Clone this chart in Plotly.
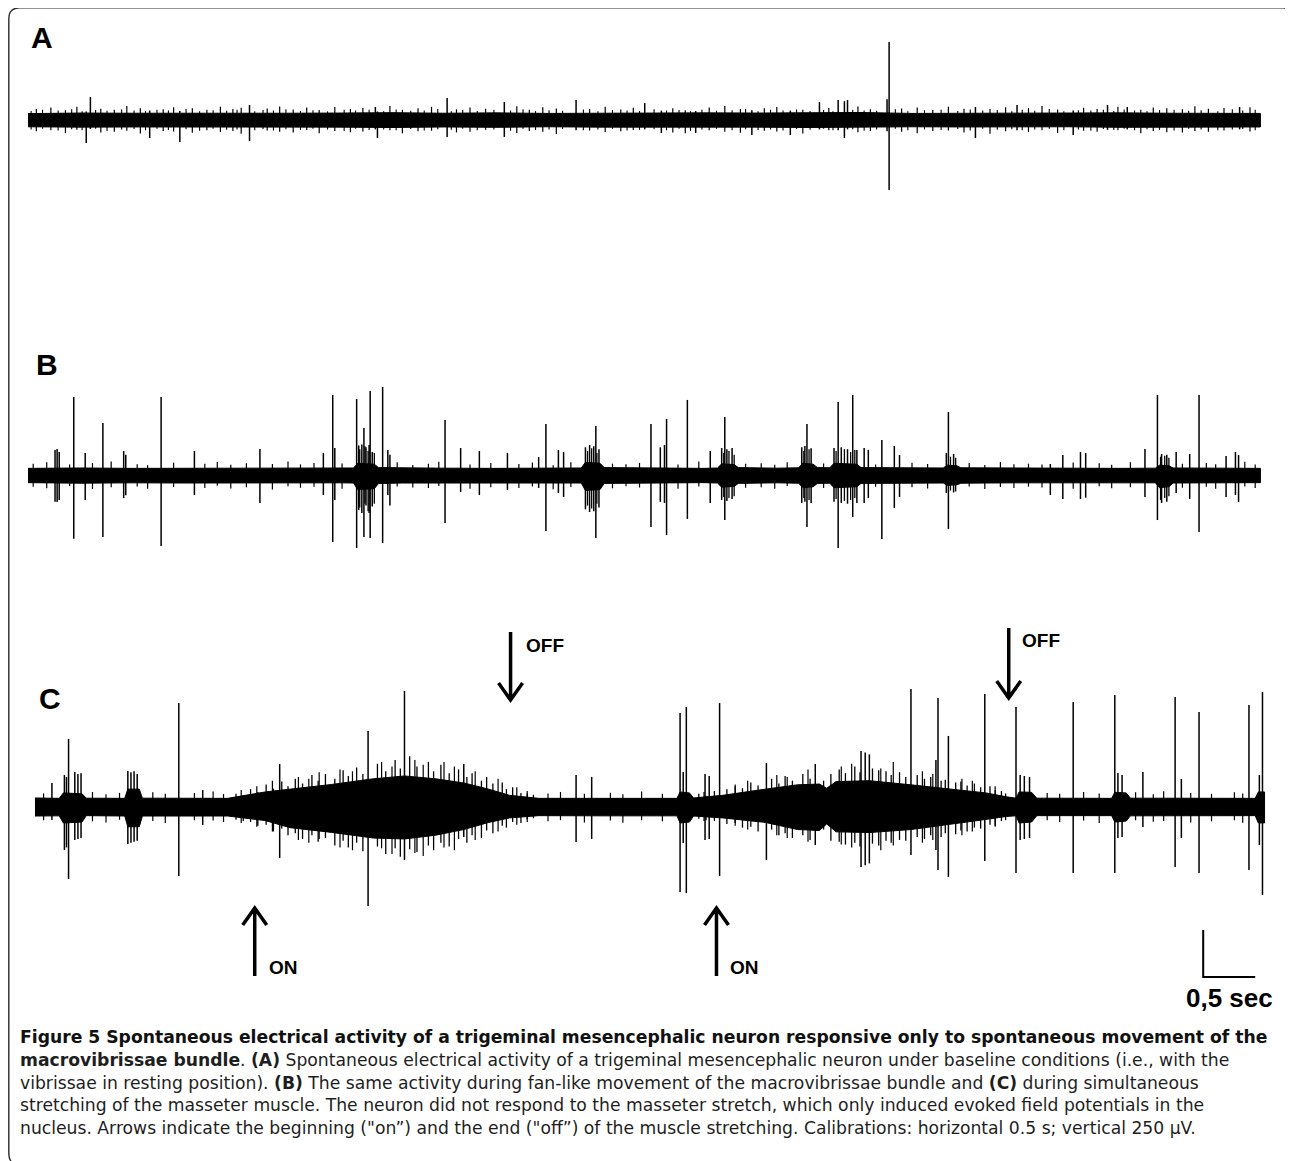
import plotly.graph_objects as go

# ---------------- data: time in s, amplitude in µV ----------------
# Panel A: baseline noise envelope
a_env_t = [0, 0.5, 1.0, 1.5, 2.0, 2.5, 3.0, 3.5, 4.0, 4.5, 5.0, 5.5, 6.0, 6.5, 7.0, 7.5, 8.0, 8.5, 9.0, 9.5, 10.0, 10.5, 11.0, 11.5, 11.85]
a_env_hi = [34, 37, 36, 35, 38, 36, 37, 39, 36, 38, 35, 37, 36, 38, 37, 39, 40, 35, 36, 37, 35, 38, 36, 37, 35]
a_env_lo = [-36, -38, -37, -36, -39, -37, -38, -40, -37, -39, -36, -38, -37, -39, -38, -40, -39, -36, -37, -38, -36, -39, -37, -38, -37]
# Panel A: spikes
a_sp_t = [0.56, 0.60, 1.17, 1.46, 2.13, 3.34, 3.36, 4.03, 4.58, 5.27, 5.93, 6.09, 6.42, 6.96, 7.33, 7.61, 7.79, 7.85, 7.88, 8.26, 8.28, 9.11, 9.51, 10.05, 10.38, 10.57, 11.65]
a_sp_hi = [45, 122, 50, 48, 80, 69, 45, 117, 96, 106, 90, 50, 48, 52, 50, 96, 106, 100, 106, 110, 415, 69, 80, 50, 80, 69, 69]
a_sp_lo = [-122, -48, -96, -117, -112, -50, -96, -90, -90, -55, -50, -69, -69, -80, -80, -50, -55, -96, -50, -60, -372, -96, -55, -80, -52, -50, -50]
# Panel A: noise deflections
a_fr_t = [0.08, 0.22, 0.36, 0.47, 0.70, 0.83, 0.95, 1.08, 1.30, 1.40,
          1.58, 1.72, 1.85, 1.97, 2.05, 2.30, 2.42, 2.55, 2.68, 2.80,
          2.95, 3.10, 3.22, 3.48, 3.60, 3.75, 3.88, 4.12, 4.25, 4.40,
          4.70, 4.82, 4.95, 5.08, 5.40, 5.55, 5.70, 5.82, 6.20, 6.32,
          6.55, 6.70, 6.85, 7.08, 7.20, 7.45, 7.70, 7.98, 8.10, 8.40,
          8.55, 8.70, 8.85, 9.00, 9.25, 9.40, 9.62, 9.75, 9.90, 10.15,
          10.28, 10.48, 10.70, 10.82, 10.95, 11.10, 11.22, 11.35, 11.50, 11.75]
a_fr_hi = [58, 66, 52, 71, 60, 55, 74, 62, 57, 68, 63, 54, 70, 59, 65, 61, 72, 56, 67, 53,
           69, 58, 64, 75, 55, 62, 70, 57, 66, 60, 73, 54, 68, 61, 59, 71, 56, 65, 63, 52,
           67, 74, 58, 62, 69, 55, 64, 72, 57, 61, 66, 53, 70, 60, 58, 68, 63, 75, 56, 65,
           59, 71, 54, 67, 62, 57, 73, 60, 64, 68]
a_fr_lo = [-60, -55, -70, -52, -66, -63, -57, -72, -58, -61, -68, -54, -64, -59, -73, -56, -62, -67, -53, -70,
           -58, -65, -61, -55, -71, -60, -57, -66, -63, -52, -69, -58, -62, -74, -56, -64, -60, -53, -67, -71,
           -55, -63, -68, -57, -61, -72, -54, -65, -59, -62, -70, -58, -56, -66, -73, -60, -64, -55, -69, -57,
           -62, -54, -71, -59, -65, -67, -58, -63, -56, -61]
a_fn_t = [0.03, 0.14, 0.29, 0.42, 0.52, 0.65, 0.76, 0.90, 1.02, 1.13,
          1.24, 1.35, 1.52, 1.65, 1.78, 1.91, 2.01, 2.18, 2.26, 2.36,
          2.48, 2.62, 2.74, 2.88, 3.04, 3.15, 3.28, 3.42, 3.54, 3.68,
          3.81, 3.94, 4.07, 4.18, 4.32, 4.48, 4.64, 4.76, 4.88, 5.01,
          5.14, 5.34, 5.48, 5.62, 5.76, 5.88, 6.02, 6.14, 6.26, 6.37,
          6.48, 6.62, 6.77, 6.90, 7.02, 7.14, 7.26, 7.39, 7.52, 7.65,
          7.74, 7.93, 8.04, 8.16, 8.34, 8.46, 8.62, 8.78, 8.94, 9.06,
          9.18, 9.32, 9.46, 9.56, 9.68, 9.82, 9.96, 10.10, 10.22, 10.34,
          10.44, 10.54, 10.64, 10.76, 10.88, 11.02, 11.16, 11.28, 11.44, 11.58,
          11.68, 11.80]
a_fn_hi = [48, 55, 50, 57, 46, 53, 49, 56, 51, 47, 54, 50, 58, 46, 52, 49, 55, 47, 53, 50,
           57, 48, 52, 46, 55, 50, 54, 47, 56, 49, 51, 58, 46, 53, 48, 55, 50, 57, 47, 52,
           49, 56, 46, 54, 51, 48, 57, 50, 53, 47, 55, 49, 52, 58, 46, 54, 50, 56, 48, 53,
           47, 55, 51, 49, 57, 46, 52, 54, 48, 56, 50, 53, 47, 55, 49, 58, 46, 52, 51, 54,
           48, 56, 50, 47, 53, 55, 49, 52, 46, 57, 51, 54]
a_fn_lo = [-50, -47, -56, -49, -54, -46, -58, -51, -48, -55, -47, -53, -49, -57, -46, -52, -50, -55, -48, -56,
           -49, -54, -47, -51, -58, -46, -53, -50, -55, -48, -56, -49, -52, -47, -54, -50, -57, -46, -53, -51,
           -48, -55, -50, -47, -56, -52, -49, -54, -46, -58, -51, -47, -55, -49, -53, -50, -56, -48, -52, -46,
           -54, -49, -57, -51, -47, -55, -50, -53, -48, -56, -46, -52, -49, -55, -51, -47, -54, -50, -57, -48,
           -53, -46, -55, -49, -52, -56, -47, -51, -54, -50, -48, -55]

# Panel B
b_env_t = [0, 0.5, 1.0, 1.5, 2.0, 2.5, 3.0, 3.13, 3.17, 3.33, 3.37, 3.6, 4.0, 4.5, 5.0, 5.32,
           5.36, 5.50, 5.54, 6.0, 6.5, 6.63, 6.67, 6.79, 6.83, 7.2, 7.41, 7.45, 7.55, 7.59, 7.71, 7.75,
           7.97, 8.01, 8.4, 8.80, 8.84, 8.93, 8.97, 9.5, 10.0, 10.5, 10.84, 10.88, 10.97, 11.01, 11.5, 11.85]
b_env_hi = [38, 40, 38, 39, 37, 40, 39, 40, 65, 60, 42, 40, 39, 38, 40, 40,
            70, 65, 42, 39, 38, 40, 62, 58, 42, 39, 41, 65, 60, 42, 41, 65,
            60, 42, 41, 40, 55, 52, 41, 39, 40, 38, 39, 55, 52, 40, 39, 38]
b_env_lo = [-38, -41, -39, -40, -38, -40, -39, -40, -75, -70, -43, -40, -39, -38, -40, -40,
            -80, -75, -42, -39, -38, -40, -62, -58, -42, -39, -41, -65, -60, -42, -41, -65,
            -60, -42, -41, -40, -52, -50, -41, -39, -40, -38, -39, -65, -60, -40, -39, -38]
b_sp_t = [0.26, 0.28, 0.30, 0.44, 0.55, 0.72, 0.92, 0.94, 1.28, 1.60,
          2.23, 2.84, 2.93, 2.95, 3.16, 3.18, 3.21, 3.23, 3.25, 3.28,
          3.29, 3.31, 3.41, 3.46, 3.48, 4.01, 4.16, 4.34, 4.61, 4.91,
          4.98, 5.10, 5.15, 5.36, 5.40, 5.44, 5.46, 5.49, 5.99, 6.08,
          6.12, 6.14, 6.34, 6.56, 6.67, 6.70, 6.72, 6.77, 7.44, 7.47,
          7.49, 7.53, 7.75, 7.79, 7.82, 7.88, 7.93, 7.97, 8.04, 8.08,
          8.21, 8.33, 8.38, 8.83, 8.85, 8.90, 9.83, 9.95, 10.12, 10.17,
          10.74, 10.86, 10.90, 10.95, 11.04, 11.17, 11.26, 11.52, 11.61, 11.64]
b_sp_hi = [135, 141, 125, 418, 120, 279, 130, 110, 418, 130,
           141, 120, 428, 146, 407, 160, 165, 253, 150, 162,
           450, 125, 471, 136, 110, 295, 146, 130, 120, 98,
           274, 136, 125, 150, 162, 155, 263, 140, 274, 150,
           162, 301, 402, 130, 146, 311, 140, 146, 150, 157,
           274, 145, 146, 391, 150, 140, 428, 135, 146, 136,
           189, 157, 109, 120, 338, 115, 61, 109, 125, 120,
           141, 428, 114, 110, 125, 114, 428, 104, 125, 109]
b_sp_lo = [-140, -141, -130, -336, -130, -327, -120, -105, -375, -104,
           -146, -104, -354, -130, -386, -184, -200, -327, -160, -200,
           -332, -165, -359, -104, -160, -253, -88, -104, -77, -66,
           -295, -93, -114, -180, -194, -190, -332, -170, -274, -140,
           -146, -317, -231, -146, -130, -237, -135, -125, -146, -140,
           -274, -146, -140, -386, -146, -150, -221, -146, -146, -120,
           -338, -173, -114, -93, -285, -90, -104, -125, -125, -118,
           -114, -237, -146, -140, -93, -125, -301, -114, -104, -141]
# Panel B: extra deflections inside the bursts
b_bu_t = [3.19, 3.24, 3.27, 3.33, 5.38, 5.42, 5.47, 6.69, 6.74, 6.79, 7.46,
          7.51, 7.77, 7.85, 7.91, 7.95, 8.87, 8.92, 10.89, 10.93, 10.97]
b_bu_hi = [140, 155, 130, 120, 130, 145, 120, 120, 130, 110, 130,
           140, 130, 140, 125, 135, 100, 95, 100, 105, 95]
b_bu_lo = [-170, -150, -190, -150, -160, -175, -150, -115, -120, -110, -120,
           -130, -125, -135, -130, -120, -80, -85, -130, -120, -110]
b_fr_t = [0.05, 0.18, 0.40, 0.62, 0.80, 1.05, 1.15, 1.40, 1.70, 1.82,
          1.95, 2.10, 2.35, 2.50, 2.62, 2.75, 3.02, 3.55, 3.70, 3.85,
          3.95, 4.25, 4.45, 4.72, 4.85, 5.05, 5.22, 5.62, 5.75, 5.88,
          6.25, 6.45, 6.90, 7.05, 7.18, 7.30, 7.65, 8.15, 8.50, 8.65,
          9.05, 9.20, 9.35, 9.48, 9.62, 9.75, 10.05, 10.30, 10.42, 10.60,
          11.10, 11.33, 11.42, 11.70, 11.80]
b_fr_hi = [62, 70, 58, 66, 74, 60, 55, 68, 63, 72, 57, 65, 61, 75, 59, 67, 64, 70, 56, 62,
           73, 58, 66, 61, 69, 55, 71, 63, 60, 67, 58, 74, 62, 65, 57, 70, 64, 59, 68, 61,
           66, 56, 72, 60, 63, 58, 69, 65, 57, 71, 62, 67, 60, 73, 58]
b_fr_lo = [-60, -68, -56, -72, -63, -58, -70, -61, -66, -55, -69, -62, -74, -57, -65, -60, -71, -58, -64, -67,
           -56, -70, -62, -66, -59, -73, -61, -68, -57, -64, -70, -58, -65, -62, -71, -56, -67, -60, -63, -69,
           -58, -72, -61, -66, -59, -64, -70, -57, -68, -62, -65, -60, -71, -58, -66]

# Panel C: dense core of the trace (incl. the two stretch-evoked field potential spindles)
c_env_t = [0.067, 0.30, 0.34, 0.52, 0.56, 0.93, 0.96, 1.07, 1.10, 1.50,
           1.92, 2.28, 2.52, 2.92, 3.32, 3.62, 3.92, 4.19, 4.43, 4.63,
           4.91, 5.50, 6.00, 6.24, 6.27, 6.36, 6.40, 6.68, 7.09, 7.40,
           7.61, 7.68, 7.77, 8.09, 8.49, 8.88, 9.21, 9.41, 9.50, 9.53,
           9.65, 9.70, 10.00, 10.42, 10.45, 10.56, 10.60, 11.00, 11.50, 11.80,
           11.83, 11.89]
c_env_hi = [48, 46, 75, 70, 47, 46, 95, 95, 47, 45,
            46, 80, 95, 120, 150, 165, 150, 128, 95, 62,
            46, 45, 47, 46, 80, 75, 48, 62, 95, 118,
            122, 100, 135, 140, 118, 95, 75, 54, 47, 80,
            78, 47, 45, 46, 78, 75, 47, 46, 45, 46,
            80, 80]
c_env_lo = [-48, -47, -85, -80, -46, -48, -105, -105, -48, -46,
            -48, -72, -110, -135, -165, -170, -150, -120, -82, -58,
            -46, -47, -46, -47, -85, -80, -48, -58, -82, -120,
            -125, -90, -132, -136, -120, -92, -66, -50, -47, -85,
            -80, -46, -47, -46, -80, -75, -47, -46, -47, -46,
            -85, -85]
c_sp_t = [0.23, 0.35, 0.37, 0.39, 0.45, 0.48, 0.51, 0.96, 0.99, 1.02,
          1.05, 1.45, 1.68, 2.42, 3.27, 3.62, 4.19, 5.27, 5.42, 6.27,
          6.30, 6.33, 6.51, 6.55, 6.65, 7.10, 7.57, 8.01, 8.05, 8.09,
          8.49, 8.73, 8.75, 8.85, 9.20, 9.50, 9.54, 9.58, 9.63, 10.05,
          10.45, 10.48, 10.52, 10.72, 11.03, 11.09, 11.26, 11.74, 11.84, 11.87]
c_sp_hi = [128, 170, 160, 362, 186, 175, 180, 192, 185, 190,
           175, 553, 90, 229, 404, 617, 229, 170, 160, 500,
           186, 532, 176, 165, 553, 234, 229, 298, 290, 280,
           628, 250, 580, 378, 601, 532, 170, 165, 160, 559,
           596, 181, 170, 186, 585, 149, 505, 543, 170, 612]
c_sp_lo = [-69, -229, -215, -383, -176, -170, -165, -197, -190, -185,
           -180, -367, -96, -271, -527, -282, -160, -186, -170, -452,
           -192, -458, -176, -170, -367, -282, -202, -319, -310, -300,
           -255, -229, -335, -372, -287, -351, -176, -170, -165, -351,
           -351, -165, -160, -106, -319, -165, -351, -335, -202, -468]
# Panel C: deflections on the spindle edges
c_s1_t = [2.00, 2.07, 2.14, 2.21, 2.29, 2.36, 2.44, 2.50, 2.57, 2.64,
          2.73, 2.79, 2.86, 2.95, 3.03, 3.08, 3.16, 3.22, 3.36, 3.44,
          3.53, 3.58, 3.67, 3.74, 3.85, 3.90, 3.97, 4.05, 4.14, 4.22,
          4.27, 4.36, 4.41, 4.47, 4.56, 4.60, 4.66, 4.74, 4.80, 4.86]
c_s1_hi = [70, 62, 95, 80, 120, 98, 135, 110, 150, 125, 170, 140, 175, 150, 195, 165, 210, 175, 230, 190,
           250, 205, 270, 215, 240, 190, 225, 180, 200, 160, 180, 140, 160, 125, 130, 95, 105, 75, 72, 65]
c_s1_lo = [-68, -75, -80, -100, -95, -130, -115, -150, -140, -170, -150, -185, -165, -205, -180, -215, -190, -235, -210, -250,
           -220, -265, -225, -240, -205, -230, -190, -210, -170, -190, -150, -165, -125, -140, -100, -110, -80, -85, -65, -60]
c_s2_t = [6.45, 6.52, 6.60, 6.72, 6.80, 6.87, 6.95, 7.02, 7.15, 7.22,
          7.28, 7.35, 7.45, 7.52, 7.65, 7.72, 7.80, 7.86, 7.95, 8.00,
          8.12, 8.18, 8.25, 8.30, 8.38, 8.44, 8.55, 8.62, 8.68, 8.78,
          8.82, 8.92, 8.97, 9.03, 9.10, 9.16, 9.25, 9.30, 9.36, 9.40]
c_s2_hi = [70, 60, 85, 95, 110, 100, 130, 115, 150, 125, 165, 140, 175, 150, 140, 175, 200, 180, 215, 185,
           205, 195, 190, 170, 185, 160, 170, 150, 160, 140, 145, 130, 135, 115, 125, 105, 110, 90, 85, 72]
c_s2_lo = [-62, -70, -75, -90, -85, -110, -105, -130, -120, -150, -140, -165, -150, -175, -120, -180, -185, -200, -190, -210,
           -195, -205, -180, -190, -175, -180, -160, -170, -150, -160, -140, -145, -125, -130, -110, -115, -95, -100, -75, -70]
c_fr_t = [0.15, 0.62, 0.75, 0.88, 1.20, 1.32, 1.60, 1.78, 1.88, 2.05,
          2.20, 2.35, 2.60, 2.70, 2.80, 3.00, 3.12, 3.40, 3.50, 3.72,
          3.80, 4.00, 4.10, 4.30, 4.52, 4.70, 4.80, 5.00, 5.12, 5.35,
          5.60, 5.72, 5.90, 6.10, 6.50, 6.80, 6.92, 7.20, 7.30, 7.50,
          7.82, 7.92, 8.20, 8.32, 8.60, 8.70, 8.98, 9.08, 9.30, 9.80,
          9.92, 10.15, 10.30, 10.65, 10.82, 10.92, 11.18, 11.38, 11.60, 11.68]
c_fr_hi = [72, 80, 68, 75, 78, 70, 74, 82, 69, 90,
           110, 140, 160, 150, 185, 200, 190, 240, 215, 250,
           225, 240, 215, 190, 150, 105, 85, 72, 80, 70,
           76, 68, 82, 71, 80, 120, 140, 170, 160, 200,
           215, 230, 205, 240, 190, 175, 150, 140, 110, 75,
           70, 80, 72, 78, 68, 84, 74, 70, 79, 72]
c_fr_lo = [-70, -76, -82, -68, -74, -85, -70, -72, -80, -85,
           -105, -130, -175, -190, -170, -215, -230, -220, -250, -245,
           -260, -215, -230, -175, -130, -95, -80, -76, -70, -82,
           -72, -84, -70, -76, -74, -100, -120, -150, -165, -185,
           -200, -215, -230, -205, -190, -175, -150, -130, -105, -70,
           -80, -72, -85, -70, -78, -74, -82, -76, -70, -84]

# stimulus events (s) in panel C
on_t = [2.18, 6.62]
off_t = [4.64, 9.43]

# calibration bar
scale_t = 0.5      # s
scale_uv = 250     # µV

caption_lines = [
    "<b>Figure 5 Spontaneous electrical activity of a trigeminal mesencephalic neuron responsive only to spontaneous movement of the</b>",
    "<b>macrovibrissae bundle</b>. <b>(A)</b> Spontaneous electrical activity of a trigeminal mesencephalic neuron under baseline conditions (i.e., with the",
    "vibrissae in resting position). <b>(B)</b> The same activity during fan-like movement of the macrovibrissae bundle and <b>(C)</b> during simultaneous",
    "stretching of the masseter muscle. The neuron did not respond to the masseter stretch, which only induced evoked field potentials in the",
    "nucleus. Arrows indicate the beginning (\"on\u201d) and the end (\"off\u201d) of the muscle stretching. Calibrations: horizontal 0.5 s; vertical 250 \u00b5V.",
]

groups = [(a_env_t, a_env_hi, a_env_lo), (b_env_t, b_env_hi, b_env_lo), (c_env_t, c_env_hi, c_env_lo),
          (a_sp_t, a_sp_hi, a_sp_lo), (b_sp_t, b_sp_hi, b_sp_lo), (c_sp_t, c_sp_hi, c_sp_lo),
          (a_fr_t, a_fr_hi, a_fr_lo), (b_fr_t, b_fr_hi, b_fr_lo), (c_fr_t, c_fr_hi, c_fr_lo),
          (a_fn_t, a_fn_hi, a_fn_lo), (b_bu_t, b_bu_hi, b_bu_lo),
          (c_s1_t, c_s1_hi, c_s1_lo), (c_s2_t, c_s2_hi, c_s2_lo)]
for grp in groups:
    assert len(grp[0]) == len(grp[1]) == len(grp[2]), [len(g) for g in grp]

# ---------------- layout helpers (pixel placement) ----------------
PAGE = 8                 # browser body margin
W, H = 1293 - PAGE, 1161 - PAGE
PX_PER_S = 104.0
UV_PER_PX = 250 / 47.0
X0 = 28                  # window pixel of t = 0


def X(p):
    return (p - PAGE) / W


def Y(p):
    return 1 - (p - PAGE) / H


def yrange(base_px):
    b = base_px - PAGE
    return [-(H - b) * UV_PER_PX, b * UV_PER_PX]


fig = go.Figure()


def strokes(t, hi, lo):
    xs, ys = [], []
    for tt, h, l in zip(t, hi, lo):
        xs += [tt, tt, None]
        ys += [l, h, None]
    return xs, ys


def add_env(env, yax):
    et, eh, el = env
    fig.add_trace(go.Scatter(x=et + et[::-1], y=eh + el[::-1], fill="toself", fillcolor="black",
                             mode="lines", line=dict(color="black", width=1), yaxis=yax, hoverinfo="skip"))


def add_strokes(grp, yax, width):
    xs, ys = strokes(*grp)
    fig.add_trace(go.Scatter(x=xs, y=ys, mode="lines", line=dict(color="black", width=width),
                             yaxis=yax, hoverinfo="skip", connectgaps=False))


add_env((a_env_t, a_env_hi, a_env_lo), "y")
add_strokes((a_fn_t, a_fn_hi, a_fn_lo), "y", 1.1)
add_strokes((a_fr_t, a_fr_hi, a_fr_lo), "y", 1.2)
add_strokes((a_sp_t, a_sp_hi, a_sp_lo), "y", 1.5)

add_env((b_env_t, b_env_hi, b_env_lo), "y2")
add_strokes((b_fr_t, b_fr_hi, b_fr_lo), "y2", 1.2)
add_strokes((b_bu_t, b_bu_hi, b_bu_lo), "y2", 1.3)
add_strokes((b_sp_t, b_sp_hi, b_sp_lo), "y2", 1.5)

add_env((c_env_t, c_env_hi, c_env_lo), "y3")
add_strokes((c_fr_t, c_fr_hi, c_fr_lo), "y3", 1.2)
add_strokes((c_s1_t, c_s1_hi, c_s1_lo), "y3", 1.3)
add_strokes((c_s2_t, c_s2_hi, c_s2_lo), "y3", 1.3)
add_strokes((c_sp_t, c_sp_hi, c_sp_lo), "y3", 1.5)

shapes = []
# border (rounded frame)
shapes.append(dict(type="path", xref="paper", yref="paper",
                   path=(f"M {X(11)},{Y(1161)} Q {X(8.8)},{Y(1159)} {X(8.8)},{Y(1152)} L {X(8.8)},{Y(19)} "
                         f"Q {X(8.8)},{Y(7.8)} {X(20)},{Y(7.8)} L {X(1283)},{Y(7.8)} Q {X(1289)},{Y(7.8)} {X(1293)},{Y(12)}"),
                   line=dict(color="#2a2a2a", width=1.4)))
# OFF arrows (pointing down)
off_y = [(632, 700), (628, 698)]
for t, (ytop, ybot) in zip(off_t, off_y):
    shapes.append(dict(type="path", xref="x", xsizemode="pixel", xanchor=t, yref="paper",
                       path=(f"M 0,{Y(ytop)} L 0,{Y(ybot - 2)} M -12,{Y(ybot - 17)} L 0,{Y(ybot)} L 12,{Y(ybot - 17)}"),
                       line=dict(color="black", width=3.5)))
# ON arrows (pointing up)
for t in on_t:
    shapes.append(dict(type="path", xref="x", xsizemode="pixel", xanchor=t, yref="paper",
                       path=(f"M 0,{Y(976)} L 0,{Y(910)} M -12,{Y(925)} L 0,{Y(908)} L 12,{Y(925)}"),
                       line=dict(color="black", width=3.5)))
# calibration bar
sb_t0 = 11.30
sb_v0 = -904
shapes.append(dict(type="path", xref="x", yref="y3",
                   path=(f"M {sb_t0},{sb_v0 + scale_uv} L {sb_t0},{sb_v0} L {sb_t0 + scale_t},{sb_v0}"),
                   line=dict(color="black", width=2)))

ann = []
LAB = "Liberation Sans, Arial, sans-serif"
for txt, px, py in [("A", 29, 37), ("B", 34, 364), ("C", 37, 698)]:
    ann.append(dict(text=txt, x=X(px), y=Y(py), xref="paper", yref="paper", xanchor="left", yanchor="middle",
                    showarrow=False, font=dict(family=LAB, size=30, color="black", weight="bold")))
for txt, px, py in [("OFF", 524, 645), ("OFF", 1020, 640), ("ON", 267, 967), ("ON", 728, 967)]:
    ann.append(dict(text=txt, x=X(px), y=Y(py), xref="paper", yref="paper", xanchor="left", yanchor="middle",
                    showarrow=False, font=dict(family=LAB, size=19, color="black", weight="bold")))
ann.append(dict(text="0,5 sec", x=X(1229), y=Y(998), xref="paper", yref="paper", xanchor="center",
                yanchor="middle", showarrow=False, font=dict(family=LAB, size=26, color="black", weight="bold")))

CAP = "DejaVu Sans, sans-serif"
CAP_SIZE = 17.2
cap_y = [1037, 1060, 1083, 1105, 1128]
for i, (line, py) in enumerate(zip(caption_lines, cap_y)):
    ann.append(dict(text=line, x=X(19), y=Y(py), xref="paper", yref="paper", xanchor="left", yanchor="middle",
                    showarrow=False, borderpad=0,
                    font=dict(family=CAP, size=CAP_SIZE, color="#111111" if i == 0 else "#1e1e1e")))

fig.update_layout(
    width=W, height=H, margin=dict(l=0, r=0, t=0, b=0), autosize=False,
    paper_bgcolor="white", plot_bgcolor="white", showlegend=False,
    xaxis=dict(range=[-(X0 - PAGE) / PX_PER_S, (W - (X0 - PAGE)) / PX_PER_S], domain=[0, 1],
               visible=False, fixedrange=True),
    yaxis=dict(range=yrange(120), domain=[0, 1], visible=False, fixedrange=True),
    yaxis2=dict(range=yrange(475.5), domain=[0, 1], overlaying="y", visible=False, fixedrange=True),
    yaxis3=dict(range=yrange(807), domain=[0, 1], overlaying="y", visible=False, fixedrange=True),
    shapes=shapes, annotations=ann,
)

fig.write_html("out.html")
